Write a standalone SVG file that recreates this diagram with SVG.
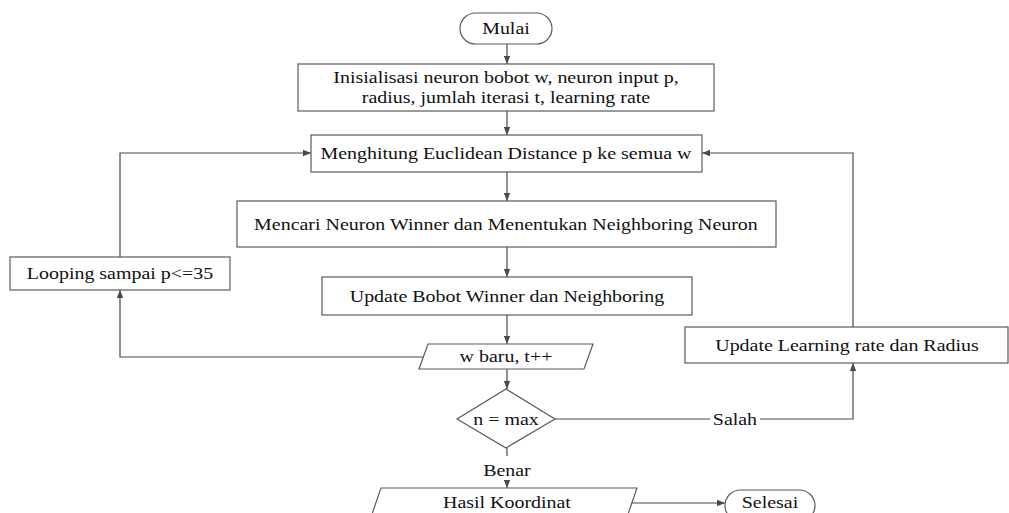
<svg xmlns="http://www.w3.org/2000/svg" width="1009" height="513" viewBox="0 0 1009 513" font-family="'Liberation Serif','Times New Roman',Times,serif">
<style>
.n{fill:#fff;stroke:#5a5a5a;stroke-width:1.2}
.t{font-family:'Liberation Serif','Times New Roman',Times,serif;font-size:17.5px;fill:#111;text-anchor:middle;transform-box:fill-box;transform-origin:center;transform:scaleX(1.14)}
.c{fill:none;stroke:#4a4a4a;stroke-width:1.2}
</style>
<defs>
<marker id="a" viewBox="0 0 10 10" refX="10" refY="5" markerWidth="8" markerHeight="8" markerUnits="userSpaceOnUse" orient="auto"><path d="M0,1 L10,5 L0,9 Z" fill="#4a4a4a"/></marker>
</defs>
<rect width="1009" height="513" fill="#fff"/>
<g id="connectors">
<path class="c" d="M507,44 V64" marker-end="url(#a)"/>
<path class="c" d="M507,111 V135" marker-end="url(#a)"/>
<path class="c" d="M507,172 V201" marker-end="url(#a)"/>
<path class="c" d="M507,247 V277" marker-end="url(#a)"/>
<path class="c" d="M507,315 V344" marker-end="url(#a)"/>
<path class="c" d="M507,369 V389" marker-end="url(#a)"/>
<path class="c" d="M423,357 H120 V290" marker-end="url(#a)"/>
<path class="c" d="M120,257 V153 H311" marker-end="url(#a)"/>
<path class="c" d="M555,419 H710"/>
<path class="c" d="M760,419 H853 V363" marker-end="url(#a)"/>
<text class="t" x="735" y="425">Salah</text>
<path class="c" d="M853,327 V153 H702" marker-end="url(#a)"/>
<path class="c" d="M507,448 V456"/>
<text class="t" x="507" y="476">Benar</text>
<path class="c" d="M507,481 V488" marker-end="url(#a)"/>
<path class="c" d="M632,503 H725" marker-end="url(#a)"/>
</g>
<g id="mulai">
<rect class="n" x="460" y="13" width="92" height="31" rx="15.5"/>
<text class="t" x="506" y="34">Mulai</text>
</g>
<g id="init">
<rect class="n" x="298" y="64" width="416" height="47"/>
<text class="t" x="506" y="83">Inisialisasi neuron bobot w, neuron input p,</text>
<text class="t" x="506" y="103">radius, jumlah iterasi t, learning rate</text>
</g>
<g id="euclid">
<rect class="n" x="311" y="135" width="391" height="37"/>
<text class="t" x="506" y="159">Menghitung Euclidean Distance p ke semua w</text>
</g>
<g id="mencari">
<rect class="n" x="237" y="201" width="539" height="46"/>
<text class="t" x="506" y="230">Mencari Neuron Winner dan Menentukan Neighboring Neuron</text>
</g>
<g id="looping">
<rect class="n" x="10" y="257" width="220" height="33"/>
<text class="t" x="120" y="279">Looping sampai p&lt;=35</text>
</g>
<g id="updatebobot">
<rect class="n" x="322" y="277" width="370" height="38"/>
<text class="t" x="507" y="302">Update Bobot Winner dan Neighboring</text>
</g>
<g id="wbaru">
<polygon class="n" points="428,344 593,344 584,369 419,369"/>
<text class="t" x="506" y="362">w baru, t++</text>
</g>
<g id="updatelr">
<rect class="n" x="685" y="327" width="323" height="36"/>
<text class="t" x="847" y="351">Update Learning rate dan Radius</text>
</g>
<g id="decision">
<polygon class="n" points="506,389 555,419 506,448 457,419"/>
<text class="t" x="506" y="425">n = max</text>
</g>
<g id="hasil">
<polygon class="n" points="381,488 637,488 626,520 370,520"/>
<text class="t" x="507" y="508">Hasil Koordinat</text>
</g>
<g id="selesai">
<rect class="n" x="725" y="490" width="90" height="31" rx="15.5"/>
<text class="t" x="770" y="508">Selesai</text>
</g>
</svg>
